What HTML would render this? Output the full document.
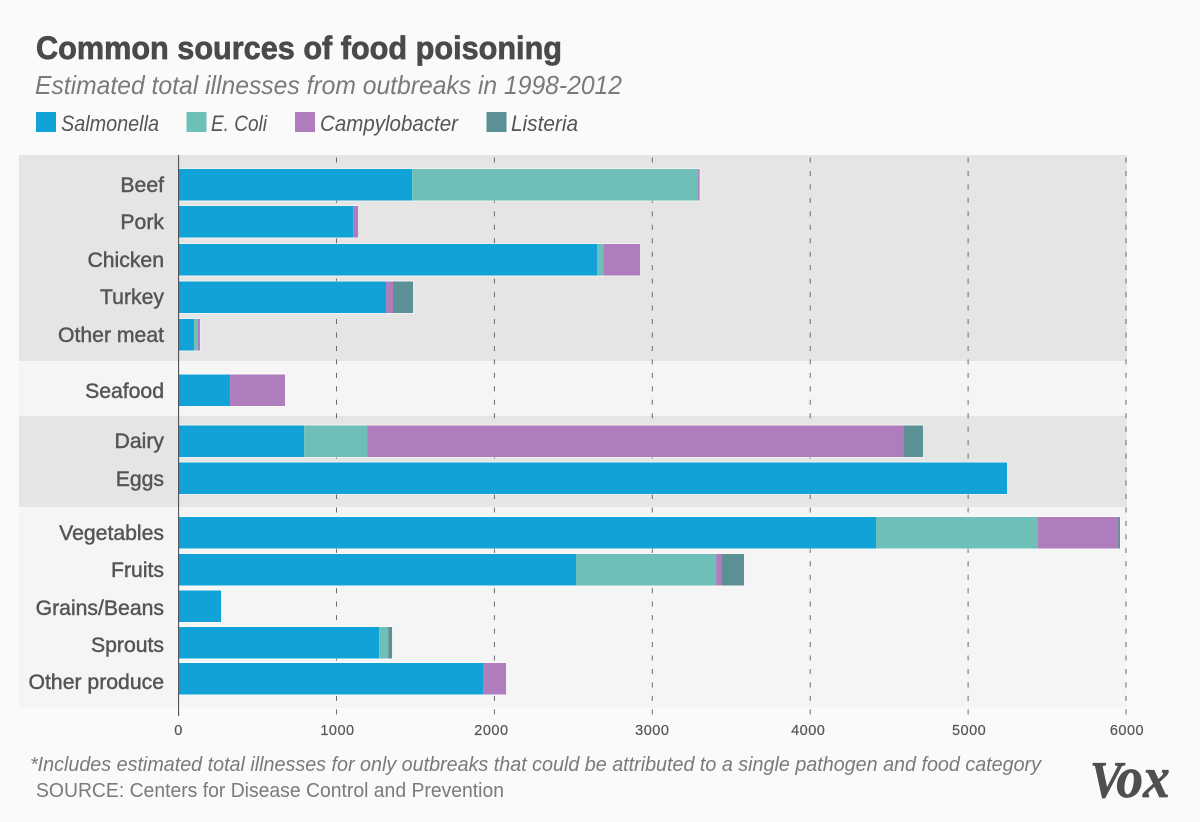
<!DOCTYPE html>
<html>
<head>
<meta charset="utf-8">
<title>Common sources of food poisoning</title>
<style>
html,body{margin:0;padding:0;background:#fafafa;}
svg{display:block;}
text{font-family:"Liberation Sans",sans-serif;}
</style>
</head>
<body>
<svg id="chart" xmlns="http://www.w3.org/2000/svg" width="1200" height="822" viewBox="0 0 1200 822">
  <rect x="0" y="0" width="1200" height="822" fill="#fafafa"/>
  <text x="36" y="59" font-size="32" font-weight="700" fill="#4a4a4a" stroke="#4a4a4a" stroke-width="0.7" textLength="526" lengthAdjust="spacingAndGlyphs">Common sources of food poisoning</text>
  <text x="35" y="94" font-size="26" font-style="italic" fill="#7a7a7a" textLength="587" lengthAdjust="spacingAndGlyphs">Estimated total illnesses from outbreaks in 1998-2012</text>
  <g id="legend"></g>
  <g id="bands"></g>
  <g id="grid"></g>
  <g id="bars"></g>
  <line x1="178.6" y1="155" x2="178.6" y2="716" stroke="#444" stroke-width="1"/>
  <g id="labels"></g>
  <g id="ticks"></g>
  <text x="30" y="771" font-size="20" font-style="italic" fill="#7a7a7a" textLength="1011" lengthAdjust="spacingAndGlyphs">*Includes estimated total illnesses for only outbreaks that could be attributed to a single pathogen and food category</text>
  <text x="36" y="797" font-size="20" fill="#7a7a7a" textLength="468" lengthAdjust="spacingAndGlyphs">SOURCE: Centers for Disease Control and Prevention</text>
  <text transform="translate(1090,797) scale(0.92,1)" x="0" y="0" font-size="52" font-weight="700" font-style="italic" fill="#4f4f4f" stroke="#4f4f4f" stroke-width="0.7" style="font-family:'Liberation Serif',serif">V<tspan font-size="58" dx="-6">ox</tspan></text>
</svg>
<script>
var categories = ["Beef","Pork","Chicken","Turkey","Other meat","Seafood","Dairy","Eggs","Vegetables","Fruits","Grains/Beans","Sprouts","Other produce"];
var salmonella = [1479,1105,2650,1314,98,326,795,5247,4417,2517,269,1270,1928];
var eColi = [1811,0,40,0,25,0,399,0,1026,887,0,57,0];
var campylobacter = [10,32,233,44,13,348,3396,0,507,32,0,0,146];
var listeria = [0,0,0,127,0,0,125,0,12,145,0,25,0];
var seriesNames = ["Salmonella","E. Coli","Campylobacter","Listeria"];
var tickValues = [0,1000,2000,3000,4000,5000,6000];

var NS = "http://www.w3.org/2000/svg";
var seriesValues = [salmonella, eColi, campylobacter, listeria];
var seriesColors = ["#11a3d8","#6dbfb8","#af7dbd","#5b9095"];
var rowTops = [169,206,244,281.5,319,374.5,425.5,462.5,517,554,590.5,627,663];
var labelBaselines = [192,229,267,304,342,398,448,486,540,577,615,652,689];
var tickNudges = [0,1,-3,0,-2,1,1];
var bandDefs = [[155,361,"#e5e5e5"],[361,416,"#f5f5f5"],[416,507,"#e5e5e5"],[507,708,"#f5f5f5"]];
var legendLayout = [[36,61,98],[186.5,211,56],[295,320,138],[486.5,511,67]];

function xScale(v){ return 178.6 + v * (1126 - 178.6) / 6000; }
function make(tag, attrs, parent){
  var el = document.createElementNS(NS, tag);
  for (var k in attrs) el.setAttribute(k, attrs[k]);
  parent.appendChild(el);
  return el;
}

var legendG = document.getElementById("legend");
seriesNames.forEach(function(name, i){
  var key = name.toLowerCase().replace(/[^a-z]+/g, "-");
  var sw = make("rect", {x:legendLayout[i][0], y:112, width:20, height:20, fill:seriesColors[i]}, legendG);
  
  
  var t = make("text", {x:legendLayout[i][1], y:131, "font-size":22, "font-style":"italic", fill:"#555", textLength:legendLayout[i][2], lengthAdjust:"spacingAndGlyphs"}, legendG);
  
  
  t.textContent = name;
});

var bandsG = document.getElementById("bands");
bandDefs.forEach(function(b, i){
  var r = make("rect", {x:19, y:b[0], width:1108, height:b[1]-b[0], fill:b[2]}, bandsG);
  
  
});

var gridG = document.getElementById("grid");
var ticksG = document.getElementById("ticks");
tickValues.forEach(function(v, i){
  if (v !== 0) {
    var l = make("line", {x1:xScale(v), x2:xScale(v), y1:157.5, y2:716, stroke:"#6a6a6a", "stroke-width":1, "stroke-dasharray":"5 8.46"}, gridG);
    
    
  }
  var t = make("text", {x:xScale(v) + tickNudges[i], y:735, "font-size":14.5, "letter-spacing":0.5, "text-anchor":"middle", fill:"#555", stroke:"#555", "stroke-width":0.2}, ticksG);
  
  
  t.textContent = String(v);
});

var barsG = document.getElementById("bars");
var labelsG = document.getElementById("labels");
categories.forEach(function(cat, i){
  var top = rowTops[i], h = 31.5, cum = 0;
  var total = salmonella[i] + eColi[i] + campylobacter[i] + listeria[i];
  var halo = make("rect", {x:xScale(0), y:top - 1, width:xScale(total) - xScale(0) + 1, height:h + 2, fill:"#ffffff", "fill-opacity":0.45}, barsG);
  
  
  seriesValues.forEach(function(vals, s){
    var v = vals[i];
    if (v > 0) {
      var x0 = xScale(cum), x1 = xScale(cum + v);
      var r = make("rect", {x:x0, y:top, width:x1-x0, height:h, fill:seriesColors[s]}, barsG);
      
      
    }
    cum += v;
  });
  var t = make("text", {x:164, y:labelBaselines[i], "font-size":21.2, "text-anchor":"end", fill:"#555", stroke:"#555", "stroke-width":0.45}, labelsG);
  
  
  t.textContent = cat;
});
</script>
</body>
</html>
